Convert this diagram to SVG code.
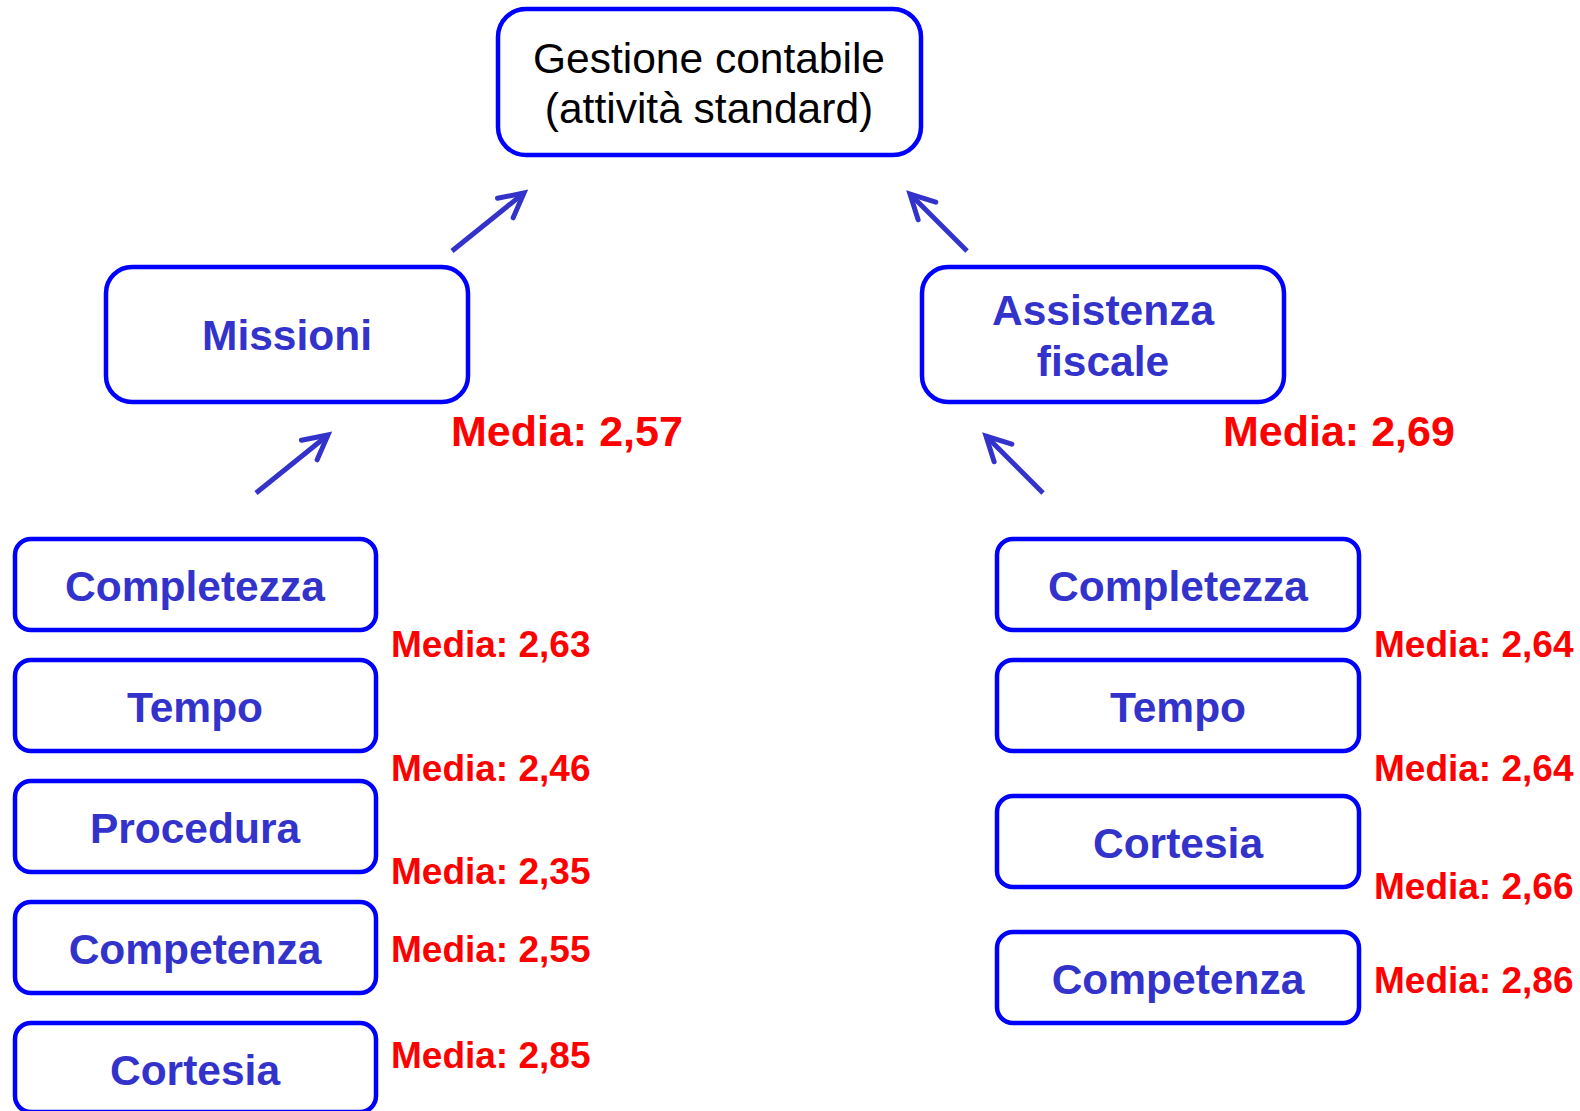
<svg xmlns="http://www.w3.org/2000/svg" width="1580" height="1111" viewBox="0 0 1580 1111">
<style>
.box{fill:#fff;stroke:#0000FF;stroke-width:4.5}
.title{font-family:"Liberation Sans",Arial,sans-serif;font-size:42.5px;fill:#000;text-anchor:middle}
.lbl{font-family:"Liberation Sans",Arial,sans-serif;font-weight:bold;font-size:42.5px;fill:#3333CC;text-anchor:middle}
.med{font-family:"Liberation Sans",Arial,sans-serif;font-weight:bold;font-size:43px;fill:#FF0000}
.meds{font-family:"Liberation Sans",Arial,sans-serif;font-weight:bold;font-size:37px;fill:#FF0000}
.arr{stroke:#3333CC;stroke-width:5;fill:none;marker-end:url(#head)}
</style>
<defs>
<marker id="head" viewBox="-30 -18 34 36" refX="0" refY="0" markerWidth="34" markerHeight="36" markerUnits="userSpaceOnUse" orient="auto" overflow="visible">
<path d="M-24,-12.5 L0,0 L-24,12.5" fill="none" stroke="#3333CC" stroke-width="5" stroke-linecap="round" stroke-linejoin="miter"/>
</marker>
</defs>
<rect width="1580" height="1111" fill="#fff"/>
<g id="connectors">
<line class="arr" x1="452" y1="251" x2="524" y2="193"/>
<line class="arr" x1="967" y1="251" x2="910" y2="194"/>
<line class="arr" x1="256" y1="493" x2="328" y2="435"/>
<line class="arr" x1="1043" y1="493" x2="986" y2="436"/>
</g>
<g id="gestione">
<rect class="box" x="498" y="9" width="423" height="146" rx="28"/>
<text class="title" x="709" y="73">Gestione contabile</text>
<text class="title" x="709" y="123">(attività standard)</text>
</g>
<g id="missioni">
<rect class="box" x="106" y="267" width="362" height="135" rx="26"/>
<text class="lbl" x="287" y="350">Missioni</text>
<text class="med" x="451" y="446">Media: 2,57</text>
</g>
<g id="assistenza">
<rect class="box" x="922" y="267" width="362" height="135" rx="26"/>
<text class="lbl" x="1103" y="325">Assistenza</text>
<text class="lbl" x="1103" y="376">fiscale</text>
<text class="med" x="1223" y="446">Media: 2,69</text>
</g>
<g id="m-completezza">
<rect class="box" x="15" y="539" width="361" height="91" rx="16"/>
<text class="lbl" x="195" y="601">Completezza</text>
<text class="meds" x="391" y="657">Media: 2,63</text>
</g>
<g id="m-tempo">
<rect class="box" x="15" y="660" width="361" height="91" rx="16"/>
<text class="lbl" x="195" y="722">Tempo</text>
<text class="meds" x="391" y="781">Media: 2,46</text>
</g>
<g id="m-procedura">
<rect class="box" x="15" y="781" width="361" height="91" rx="16"/>
<text class="lbl" x="195" y="843">Procedura</text>
<text class="meds" x="391" y="884">Media: 2,35</text>
</g>
<g id="m-competenza">
<rect class="box" x="15" y="902" width="361" height="91" rx="16"/>
<text class="lbl" x="195" y="964">Competenza</text>
<text class="meds" x="391" y="962">Media: 2,55</text>
</g>
<g id="m-cortesia">
<rect class="box" x="15" y="1023" width="361" height="89" rx="16"/>
<text class="lbl" x="195" y="1085">Cortesia</text>
<text class="meds" x="391" y="1068">Media: 2,85</text>
</g>
<g id="a-completezza">
<rect class="box" x="997" y="539" width="362" height="91" rx="16"/>
<text class="lbl" x="1178" y="601">Completezza</text>
<text class="meds" x="1374" y="657">Media: 2,64</text>
</g>
<g id="a-tempo">
<rect class="box" x="997" y="660" width="362" height="91" rx="16"/>
<text class="lbl" x="1178" y="722">Tempo</text>
<text class="meds" x="1374" y="781">Media: 2,64</text>
</g>
<g id="a-cortesia">
<rect class="box" x="997" y="796" width="362" height="91" rx="16"/>
<text class="lbl" x="1178" y="858">Cortesia</text>
<text class="meds" x="1374" y="899">Media: 2,66</text>
</g>
<g id="a-competenza">
<rect class="box" x="997" y="932" width="362" height="91" rx="16"/>
<text class="lbl" x="1178" y="994">Competenza</text>
<text class="meds" x="1374" y="993">Media: 2,86</text>
</g>
</svg>
